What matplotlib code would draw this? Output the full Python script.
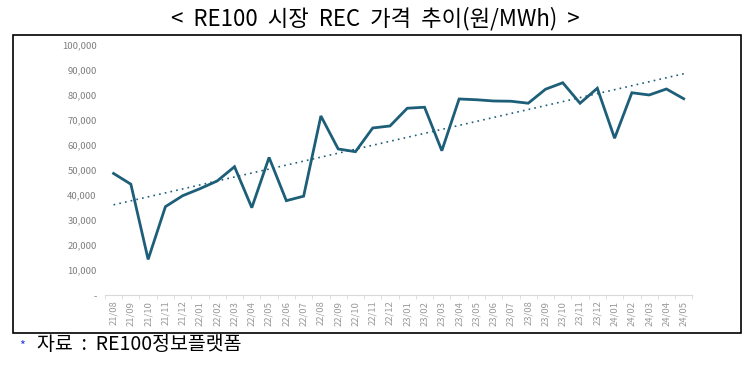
import numpy as np
import matplotlib
matplotlib.use("Agg")
import matplotlib.pyplot as plt
from matplotlib.patches import Rectangle
from matplotlib.ticker import FuncFormatter

plt.rcParams['font.family'] = ['Noto Sans CJK KR', 'DejaVu Sans']

# 월별 REC 가격 (원/MWh)
months = ['21/08', '21/09', '21/10', '21/11', '21/12',
          '22/01', '22/02', '22/03', '22/04', '22/05', '22/06',
          '22/07', '22/08', '22/09', '22/10', '22/11', '22/12',
          '23/01', '23/02', '23/03', '23/04', '23/05', '23/06',
          '23/07', '23/08', '23/09', '23/10', '23/11', '23/12',
          '24/01', '24/02', '24/03', '24/04', '24/05']
prices = [48700, 44400, 14300, 35400, 39800,
          42600, 45700, 51400, 35000, 55100, 37800,
          39600, 71700, 58500, 57400, 66900, 67700,
          74800, 75200, 57800, 78500, 78200, 77700,
          77600, 76800, 82400, 85000, 76800, 82800,
          62800, 81000, 80100, 82500, 78600]
yticks = [0, 10000, 20000, 30000, 40000, 50000, 60000, 70000, 80000, 90000, 100000]

fig = plt.figure(figsize=(7.55, 3.68), dpi=100)
ax = fig.add_axes([0.139, 0.198, 0.778, 0.679])

x = np.arange(len(months))
line_color = '#1d5e78'

# 추세선
k, b = np.polyfit(x, prices, 1)
ax.plot(x, k * x + b, linestyle=(0, (1, 2.5)), color=line_color, linewidth=1.2)
ax.plot(x, prices, color=line_color, linewidth=2.0, solid_joinstyle='miter')

ax.set_xlim(-0.5, len(months) - 0.5)
ax.set_ylim(0, 100000)
ax.set_yticks(yticks)
ax.yaxis.set_major_formatter(FuncFormatter(lambda v, p: '-' if v == 0 else f'{int(v):,}'))
ax.set_xticks(x)
ax.set_xticklabels(months, rotation=90)
ax.set_xticks(np.arange(-0.5, len(months), 1), minor=True)

for s in ['top', 'right', 'left']:
    ax.spines[s].set_visible(False)
ax.spines['bottom'].set_color('#d9d9d9')
ax.tick_params(axis='y', length=0, labelsize=6.8, labelcolor='#7f7f7f', pad=6)
ax.tick_params(axis='x', which='major', length=0, labelsize=6.8, labelcolor='#999999', pad=4)
ax.tick_params(axis='x', which='minor', length=3, color='#d9d9d9')

# 외곽 박스
fig.patches.append(Rectangle((13 / 755, 1 - 333 / 368), 728 / 755, 298 / 368,
                             transform=fig.transFigure, fill=False,
                             edgecolor='black', linewidth=1.2))

fig.text(375 / 755, 1 - 19 / 368, '<  RE100  시장  REC  가격  추이(원/MWh)  >',
         ha='center', va='center', fontsize=16)
fig.text(22 / 755, 1 - 346 / 368, '*', color='#2b3fd6', ha='center', va='center', fontsize=9)
fig.text(37 / 755, 1 - 344 / 368, '자료  :  RE100정보플랫폼',
         ha='left', va='center', fontsize=14)

fig.savefig('out.png', dpi=100)
